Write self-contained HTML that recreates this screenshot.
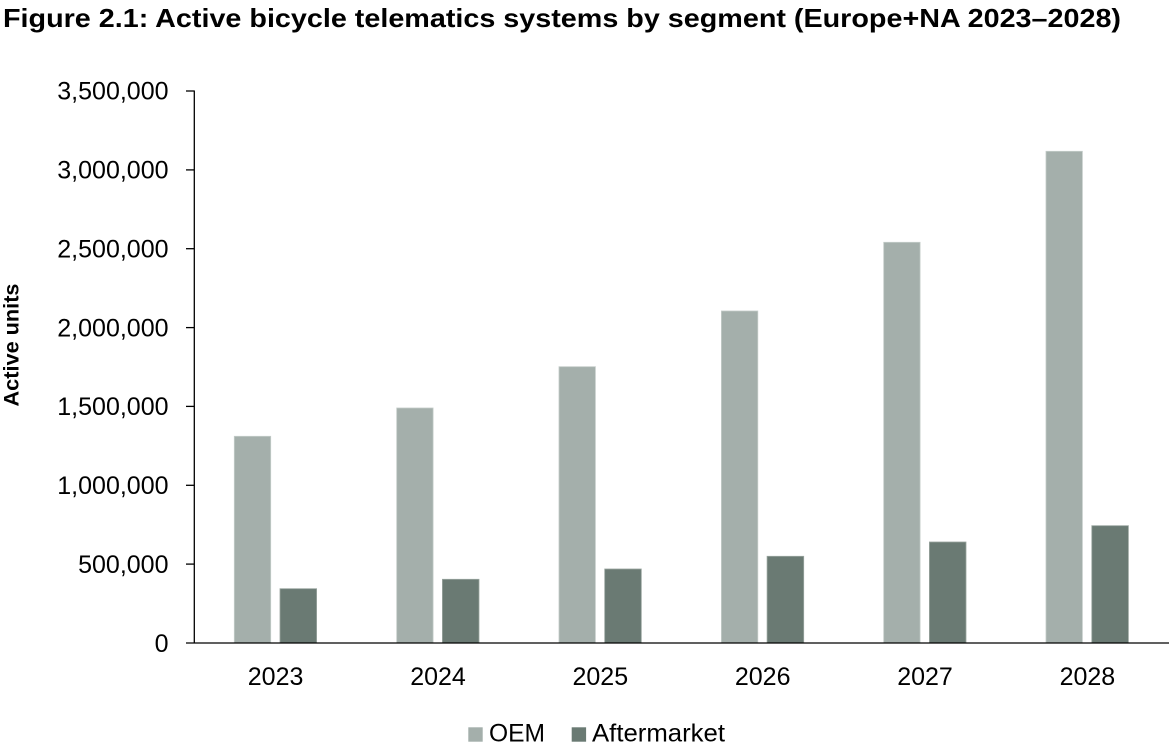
<!DOCTYPE html>
<html>
<head>
<meta charset="utf-8">
<style>
  html, body { margin: 0; padding: 0; background: #ffffff; }
  svg { display: block; }
  text { font-family: "Liberation Sans", Arial, Helvetica, sans-serif; fill: #000; }
</style>
</head>
<body>
<svg width="1171" height="745" viewBox="0 0 1171 745" xmlns="http://www.w3.org/2000/svg">
  <rect x="0" y="0" width="1171" height="745" fill="#ffffff"/>

  <!-- Title -->
  <text x="3" y="27" font-size="26" font-weight="bold" textLength="1118" lengthAdjust="spacingAndGlyphs">Figure 2.1: Active bicycle telematics systems by segment (Europe+NA 2023–2028)</text>

  <!-- Y axis title -->
  <text transform="translate(18.5,345) rotate(-90)" text-anchor="middle" font-size="21" font-weight="bold" textLength="123" lengthAdjust="spacingAndGlyphs">Active units</text>

  <!-- Y tick labels -->
  <g font-size="25" text-anchor="end">
    <text x="168.5" y="99.7">3,500,000</text>
    <text x="168.5" y="178.6">3,000,000</text>
    <text x="168.5" y="257.5">2,500,000</text>
    <text x="168.5" y="336.4">2,000,000</text>
    <text x="168.5" y="415.2">1,500,000</text>
    <text x="168.5" y="494.1">1,000,000</text>
    <text x="168.5" y="572.9">500,000</text>
    <text x="168.5" y="651.8">0</text>
  </g>

  <!-- Bars OEM -->
  <g fill="#a4afab" stroke="#c4ccc9" stroke-width="0.8">
    <rect x="234.3" y="436.3" width="36.4" height="206.7"/>
    <rect x="396.7" y="408" width="36.4" height="235"/>
    <rect x="559.0" y="366.7" width="36.4" height="276.3"/>
    <rect x="721.4" y="311" width="36.4" height="332"/>
    <rect x="883.7" y="242.3" width="36.4" height="400.7"/>
    <rect x="1046.0" y="151.3" width="36.4" height="491.7"/>
  </g>
  <!-- Bars Aftermarket -->
  <g fill="#6a7a73" stroke="#9aa59f" stroke-width="0.8">
    <rect x="280.0" y="588.7" width="36.6" height="54.3"/>
    <rect x="442.4" y="579.3" width="36.6" height="63.7"/>
    <rect x="604.7" y="569" width="36.6" height="74"/>
    <rect x="767.1" y="556.3" width="36.6" height="86.7"/>
    <rect x="929.4" y="542" width="36.6" height="101"/>
    <rect x="1091.8" y="525.7" width="36.6" height="117.3"/>
  </g>

  <!-- Axes -->
  <g stroke="#000" stroke-width="1.3" fill="none">
    <line x1="194.3" y1="90.5" x2="194.3" y2="643.5"/>
    <line x1="186" y1="643" x2="1169" y2="643"/>
    <line x1="186" y1="91" x2="194.3" y2="91"/>
    <line x1="186" y1="169.9" x2="194.3" y2="169.9"/>
    <line x1="186" y1="248.7" x2="194.3" y2="248.7"/>
    <line x1="186" y1="327.6" x2="194.3" y2="327.6"/>
    <line x1="186" y1="406.4" x2="194.3" y2="406.4"/>
    <line x1="186" y1="485.3" x2="194.3" y2="485.3"/>
    <line x1="186" y1="564.1" x2="194.3" y2="564.1"/>
  </g>

  <!-- X labels -->
  <g font-size="25" text-anchor="middle">
    <text x="275.6" y="685">2023</text>
    <text x="438.0" y="685">2024</text>
    <text x="600.3" y="685">2025</text>
    <text x="762.7" y="685">2026</text>
    <text x="925.0" y="685">2027</text>
    <text x="1087.4" y="685">2028</text>
  </g>

  <!-- Legend -->
  <rect x="468.3" y="727.3" width="14.4" height="14.4" fill="#a4afab"/>
  <text x="489" y="741.7" font-size="25" textLength="56" lengthAdjust="spacingAndGlyphs">OEM</text>
  <rect x="571.7" y="727.3" width="14.4" height="14.4" fill="#6a7a73"/>
  <text x="592" y="741.7" font-size="25" textLength="133" lengthAdjust="spacingAndGlyphs">Aftermarket</text>
</svg>
</body>
</html>
